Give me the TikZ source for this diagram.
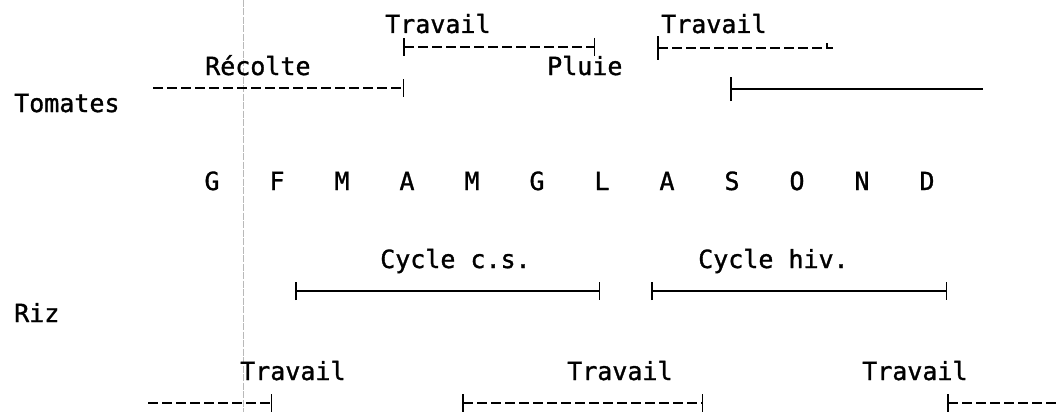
\documentclass[tikz,border=0pt]{standalone}
\usepackage{fontspec}
\usetikzlibrary{arrows.meta}
\newfontfamily\tw[FakeBold=1.2]{DejaVu Sans Mono}
\tikzset{
  lbl/.style={font=\tw\fontsize{25}{25}\selectfont, inner sep=0pt, anchor=base west},
  mon/.style={font=\tw\fontsize{25}{25}\selectfont, inner sep=0pt, anchor=base},
  span/.style={line width=1.5pt, line cap=butt},
  dspan/.style={span, dash pattern=on 10pt off 4pt},
  tick/.tip={Bar[width=18pt, line width=1.5pt]},
  tall/.tip={Bar[width=24pt, line width=1.5pt]},
  fold/.style={gray!55, line width=0.5pt, dash pattern=on 7pt off 1.5pt}
}
\begin{document}
\begin{tikzpicture}[x=1pt, y=-1pt]
  \useasboundingbox (0,0) rectangle (1057,412);
  % faint vertical guide through the sheet
  \draw[fold] (243,0) -- (243,412);

  % row labels
  \node[lbl] (tom) at (14,112) {Tomates};
  \node[lbl] (riz) at (14,322) {Riz};

  % months
  \foreach \m [count=\i from 0] in {G,F,M,A,M,G,L,A,S,O,N,D}
    \node[mon] (m\i) at ({212+65*\i},190) {\m};

  % --- Tomatoes ---
  \node[lbl] (recolte) at (205,75) {Récolte};
  \coordinate (r0) at (153,88);  \coordinate (r1) at (404,88);
  \draw[dspan, -tick] (r0) -- (r1);

  \node[lbl] (trA) at (385,33) {Travail};
  \coordinate (a0) at (403,47);  \coordinate (a1) at (595,47);
  \draw[dspan, tick-tick] (a0) -- (a1);

  \node[lbl] (pluie) at (547,75) {Pluie};

  \node[lbl] (trB) at (661,33) {Travail};
  \coordinate (b0) at (657,48);  \coordinate (b1) at (833,48);
  \draw[dspan, tall-] (b0) -- (b1);
  \draw[span] (b1) ++(-6,0) -- ++(0,-5);

  \coordinate (c0) at (730,89);  \coordinate (c1) at (983,89);
  \draw[span, tall-] (c0) -- (c1);

  % --- Rice ---
  \node[lbl] (cycA) at (380,268) {Cycle c.s.};
  \coordinate (s0) at (295,291); \coordinate (s1) at (600,291);
  \draw[span, tick-tick] (s0) -- (s1);

  \node[lbl] (cycB) at (698,268) {Cycle hiv.};
  \coordinate (h0) at (651,291); \coordinate (h1) at (947,291);
  \draw[span, tick-tick] (h0) -- (h1);

  \node[lbl] (trC) at (240,380) {Travail};
  \coordinate (d0) at (148,403); \coordinate (d1) at (272,403);
  \draw[dspan, -tick] (d0) -- (d1);

  \node[lbl] (trD) at (567,380) {Travail};
  \coordinate (e0) at (462,403); \coordinate (e1) at (703,403);
  \draw[dspan, tick-tick] (e0) -- (e1);

  \node[lbl] (trE) at (862,380) {Travail};
  \coordinate (f0) at (947,403); \coordinate (f1) at (1057,403);
  \draw[dspan, tick-] (f0) -- (f1);
\end{tikzpicture}
\end{document}
